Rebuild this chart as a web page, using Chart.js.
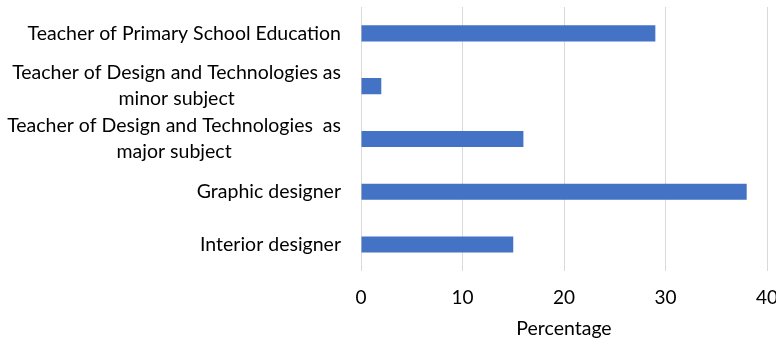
<!DOCTYPE html>
<html>
<head>
<meta charset="utf-8">
<script src="https://cdn.jsdelivr.net/npm/chart.js@4.4.1/dist/chart.umd.min.js"></script>
<style>
  html, body { margin: 0; padding: 0; background: #ffffff; }
  #wrap { width: 776px; height: 342px; }
</style>
</head>
<body>
<div id="wrap"><canvas id="chart" width="776" height="342"></canvas></div>
<script>
// Job categories, top to bottom; multi-line names are split into lines
const categories = [
  ["Teacher of Primary School Education"],
  ["Teacher of Design and Technologies as", "minor subject"],
  ["Teacher of Design and Technologies  as", "major subject"],
  ["Graphic designer"],
  ["Interior designer"]
];
// Share of respondents (%) per category
const percentages = [29, 2, 16, 38, 15];
// Value axis ticks
const xTicks = [0, 10, 20, 30, 40];
const xTitle = "Percentage";

const FONT = "Lato, 'Open Sans', sans-serif";
const FONT_SIZE = 19.5;
const TEXT_COLOR = "#000000";
const LABEL_RIGHT_GAP = 20;   // space between category text and the axis
const LABEL_LINE_HEIGHT = 26;

// Draws the category names left of the plot: each name block is
// right-aligned to the axis, with its own lines centred on each other.
const categoryLabels = {
  id: "categoryLabels",
  afterDraw(chart) {
    const y = chart.scales.y;
    const ctx = chart.ctx;
    ctx.save();
    ctx.font = FONT_SIZE + "px " + FONT;
    ctx.fillStyle = TEXT_COLOR;
    ctx.textAlign = "center";
    ctx.textBaseline = "middle";
    const right = chart.chartArea.left - LABEL_RIGHT_GAP;
    categories.forEach((lines, i) => {
      const cy = y.getPixelForTick(i);
      const widest = Math.max(...lines.map(l => ctx.measureText(l).width));
      const cx = right - widest / 2;
      lines.forEach((line, k) => {
        const off = (k - (lines.length - 1) / 2) * LABEL_LINE_HEIGHT;
        ctx.fillText(line, cx, cy + off);
      });
    });
    ctx.restore();
  }
};

new Chart(document.getElementById("chart"), {
  type: "bar",
  data: {
    labels: categories.map(c => c.join(" ")),
    datasets: [{
      data: percentages,
      backgroundColor: "#4472C4",
      borderWidth: 0,
      categoryPercentage: 1,
      barPercentage: 0.304
    }]
  },
  options: {
    indexAxis: "y",
    responsive: false,
    animation: false,
    devicePixelRatio: 1,
    layout: { padding: { top: 7, right: 9, bottom: 2, left: 0 } },
    plugins: {
      legend: { display: false },
      tooltip: { enabled: false }
    },
    scales: {
      x: {
        min: xTicks[0],
        max: xTicks[xTicks.length - 1],
        afterBuildTicks: s => { s.ticks = xTicks.map(v => ({ value: v })); },
        afterFit: s => { s.paddingRight = 0; s.paddingLeft = 0; },
        grid: { color: "#d9d9d9", lineWidth: 1, drawTicks: false },
        border: { display: false },
        ticks: {
          padding: 16,
          color: TEXT_COLOR,
          font: { family: FONT, size: 19 }
        },
        title: {
          display: true,
          text: xTitle,
          color: TEXT_COLOR,
          font: { family: FONT, size: FONT_SIZE },
          // tick padding is applied on both sides of the labels; pull the title back up
          padding: { top: -9, bottom: 0 }
        }
      },
      y: {
        grid: { display: false },
        border: { display: false },
        ticks: { display: false },
        afterFit: s => { s.width = 361; }
      }
    }
  },
  plugins: [categoryLabels]
});
</script>
</body>
</html>
